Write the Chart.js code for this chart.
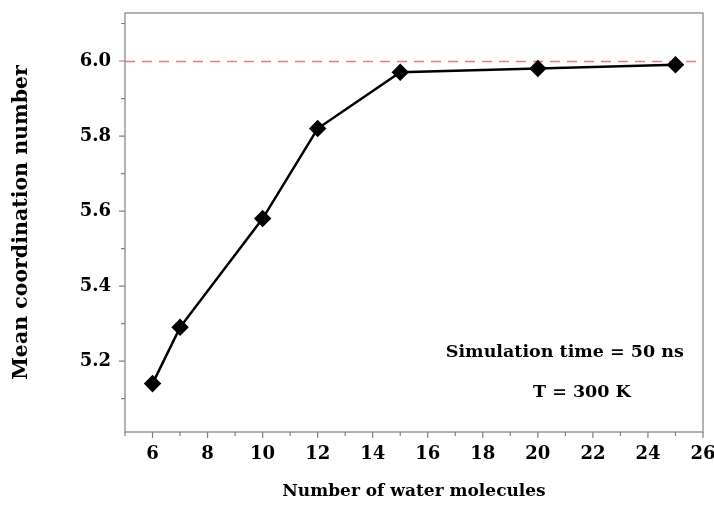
<!DOCTYPE html>
<html>
<head>
<meta charset="utf-8">
<script src="https://cdn.jsdelivr.net/npm/chart.js@4/dist/chart.umd.min.js"></script>
<style>
html,body{margin:0;padding:0;background:#fff;}
#wrap{width:714px;height:506px;position:relative;}
</style>
</head>
<body>
<div id="wrap"><canvas id="c" width="714" height="506"></canvas></div>
<script>
const waterMolecules = [6, 7, 10, 12, 15, 20, 25];
const coordination = [5.14, 5.29, 5.58, 5.82, 5.97, 5.98, 5.99];
const xTicks = [6, 8, 10, 12, 14, 16, 18, 20, 22, 24, 26];
const xMinorTicks = [5, 7, 9, 11, 13, 15, 17, 19, 21, 23, 25];
const yTicks = [5.2, 5.4, 5.6, 5.8, 6.0];
const yMinorTicks = [5.1, 5.3, 5.5, 5.7, 5.9, 6.1];
const referenceLevel = 6.0;
const annotations = [
  {text: 'Simulation time = 50 ns', x: 20.98, y: 5.222},
  {text: 'T = 300 K', x: 21.6, y: 5.117}
];

const FONT = "'DejaVu Serif', serif";
const AXIS_COLOR = '#808080';

const framePlugin = {
  id: 'frame',
  beforeDatasetsDraw(chart) {
    const {ctx, chartArea: a, scales: {x, y}} = chart;
    ctx.save();
    const yp = y.getPixelForValue(referenceLevel);
    ctx.strokeStyle = '#f07878';
    ctx.lineWidth = 1.3;
    ctx.setLineDash([10, 7]);
    ctx.beginPath();
    ctx.moveTo(a.left, Math.round(yp) + 0.5);
    ctx.lineTo(a.right, Math.round(yp) + 0.5);
    ctx.stroke();
    ctx.setLineDash([]);
    ctx.strokeStyle = AXIS_COLOR;
    ctx.lineWidth = 1.2;
    ctx.strokeRect(a.left, a.top, a.right - a.left, a.bottom - a.top);
    ctx.beginPath();
    xTicks.forEach(v => { const p = x.getPixelForValue(v); ctx.moveTo(p, a.bottom); ctx.lineTo(p, a.bottom + 6); });
    xMinorTicks.forEach(v => { const p = x.getPixelForValue(v); ctx.moveTo(p, a.bottom); ctx.lineTo(p, a.bottom + 4); });
    yTicks.forEach(v => { const p = y.getPixelForValue(v); ctx.moveTo(a.left, p); ctx.lineTo(a.left - 6, p); });
    yMinorTicks.forEach(v => { const p = y.getPixelForValue(v); ctx.moveTo(a.left, p); ctx.lineTo(a.left - 4, p); });
    ctx.stroke();
    ctx.restore();
  },
  afterDatasetsDraw(chart) {
    const {ctx, scales: {x, y}} = chart;
    ctx.save();
    ctx.fillStyle = '#000';
    ctx.font = "bold 17.5px " + FONT;
    ctx.textAlign = 'center';
    ctx.textBaseline = 'middle';
    annotations.forEach(an => ctx.fillText(an.text, x.getPixelForValue(an.x), y.getPixelForValue(an.y)));
    ctx.restore();
  }
};

new Chart(document.getElementById('c'), {
  type: 'line',
  data: {
    datasets: [{
      data: waterMolecules.map((v, i) => ({x: v, y: coordination[i]})),
      borderColor: '#000',
      backgroundColor: '#000',
      borderWidth: 2.5,
      pointStyle: 'rectRot',
      pointRadius: 7,
      pointHoverRadius: 7,
      tension: 0
    }]
  },
  options: {
    responsive: false,
    animation: false,
    events: [],
    layout: {padding: {left: 0, right: 11, top: 13, bottom: 0}},
    plugins: {legend: {display: false}, tooltip: {enabled: false}},
    scales: {
      x: {
        type: 'linear',
        min: 5, max: 26,
        afterBuildTicks: s => { s.ticks = xTicks.map(v => ({value: v})); },
        afterFit: s => { s.height = 74; s.paddingLeft = 0; s.paddingRight = 0; s.paddingTop = 0; s.paddingBottom = 0; },
        grid: {display: false, drawTicks: false},
        border: {display: false},
        ticks: {color: '#000', font: {family: FONT, size: 18, weight: 'bold'}, padding: 12, maxRotation: 0, autoSkip: false},
        title: {display: true, text: 'Number of water molecules', color: '#000', font: {family: FONT, size: 17, weight: 'bold'}, padding: {top: 14}}
      },
      y: {
        type: 'linear',
        min: 5.011, max: 6.128,
        afterBuildTicks: s => { s.ticks = yTicks.map(v => ({value: v})); },
        afterFit: s => { s.width = 125; s.paddingLeft = 0; s.paddingRight = 0; s.paddingTop = 0; s.paddingBottom = 0; },
        grid: {display: false, drawTicks: false},
        border: {display: false},
        ticks: {color: '#000', font: {family: FONT, size: 18, weight: 'bold'}, padding: 14, callback: v => v.toFixed(1), autoSkip: false},
        title: {display: true, text: 'Mean coordination number', color: '#000', font: {family: FONT, size: 20.5, weight: 'bold'}, padding: {top: 9}}
      }
    }
  },
  plugins: [framePlugin]
});
</script>
</body>
</html>
